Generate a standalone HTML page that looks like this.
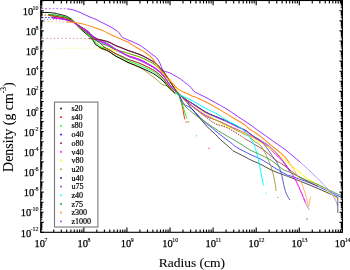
<!DOCTYPE html>
<html><head><meta charset="utf-8"><style>
html,body{margin:0;padding:0;background:#fff;}
svg{display:block;font-family:"Liberation Serif",serif;will-change:transform;}
</style></head><body>
<svg width="350" height="270" viewBox="0 0 350 270">
<rect width="350" height="270" fill="#fff"/>
<g fill="none" stroke-linejoin="round" stroke-linecap="butt">
<path d="M41.50,8.60 L67.00,8.70" stroke="#9933ff" stroke-width="1.0" stroke-dasharray="1.8 1.9" stroke-opacity="0.7"/>
<path d="M44.00,21.50 L67.00,22.00" stroke="#ff8c1a" stroke-width="1.0" stroke-dasharray="1.2 2.6" stroke-opacity="0.6"/>
<path d="M42.50,38.40 L88.70,38.50" stroke="#c04040" stroke-width="0.9" stroke-dasharray="1.4 2.4" stroke-opacity="0.6"/>
<path d="M53.00,48.20 L99.00,48.20" stroke="#f0e000" stroke-width="0.9" stroke-dasharray="1.2 2.5" stroke-opacity="0.6"/>
<path d="M42.00,17.60 L52.00,17.60" stroke="#0000ff" stroke-width="1.0" stroke-dasharray="1.4 1.7" stroke-opacity="0.9"/>
<path d="M42.00,14.40 L48.00,14.50" stroke="#00ff00" stroke-width="1.0" stroke-dasharray="1.3 1.7" stroke-opacity="0.6"/>
<path d="M41.50,15.40 L48.60,15.50" stroke="#ff0000" stroke-width="1.0" stroke-dasharray="1.3 1.8" stroke-opacity="0.6"/>
<path d="M41.50,12.40 L48.00,12.50" stroke="#000000" stroke-width="1.0" stroke-opacity="0.3"/>
<path d="M44.00,19.60 L65.00,19.80" stroke="#9932cc" stroke-width="1.0" stroke-dasharray="1.2 1.8" stroke-opacity="0.6"/>
<path d="M48.60,15.50 C49.33,15.58 51.43,15.77 53.00,16.00 C54.57,16.23 56.05,16.58 58.00,16.90 C59.95,17.22 63.03,17.58 64.70,17.90 C66.37,18.22 66.90,18.40 68.00,18.80 C69.10,19.20 70.30,19.72 71.30,20.30 C72.30,20.88 72.88,21.40 74.00,22.30 C75.12,23.20 76.50,24.45 78.00,25.70 C79.50,26.95 81.33,28.45 83.00,29.80 C84.67,31.15 86.50,32.53 88.00,33.80 C89.50,35.07 90.33,36.12 92.00,37.40 C93.67,38.68 96.67,40.62 98.00,41.50 C99.33,42.38 99.25,42.04 100.00,42.70 C100.75,43.36 101.67,44.66 102.50,45.46 C103.33,46.26 103.93,46.78 105.00,47.49 C106.07,48.20 107.57,48.93 108.90,49.70 C110.23,50.47 111.65,51.33 113.00,52.09 C114.35,52.85 115.50,53.54 117.00,54.27 C118.50,55.00 120.17,55.61 122.00,56.45 C123.83,57.29 126.00,58.49 128.00,59.30 C130.00,60.11 131.83,60.53 134.00,61.30 C136.17,62.07 138.83,63.00 141.00,63.90 C143.17,64.80 144.83,65.64 147.00,66.72 C149.17,67.80 152.17,69.28 154.00,70.40 C155.83,71.52 156.67,72.35 158.00,73.45 C159.33,74.55 160.67,75.58 162.00,77.00 C163.33,78.42 164.67,80.21 166.00,82.00 C167.33,83.79 168.83,86.20 170.00,87.75 C171.17,89.30 172.17,90.34 173.00,91.30 C173.83,92.26 174.67,93.13 175.00,93.50" stroke="#00ffff" stroke-width="1.0"/>
<path d="M52.00,17.70 C53.00,17.80 55.88,18.03 58.00,18.30 C60.12,18.57 63.03,18.98 64.70,19.30 C66.37,19.62 66.90,19.87 68.00,20.20 C69.10,20.53 70.30,20.90 71.30,21.30 C72.30,21.70 72.88,21.85 74.00,22.60 C75.12,23.35 76.50,24.70 78.00,25.80 C79.50,26.90 81.33,28.03 83.00,29.20 C84.67,30.37 86.50,31.58 88.00,32.80 C89.50,34.02 90.00,35.05 92.00,36.50 C94.00,37.95 98.00,40.35 100.00,41.50 C102.00,42.65 102.52,42.64 104.00,43.39 C105.48,44.14 107.40,45.13 108.90,46.00 C110.40,46.87 111.65,47.76 113.00,48.59 C114.35,49.42 115.50,50.22 117.00,50.97 C118.50,51.72 120.17,52.28 122.00,53.10 C123.83,53.92 126.00,55.12 128.00,55.90 C130.00,56.68 131.83,57.04 134.00,57.76 C136.17,58.48 138.83,59.27 141.00,60.20 C143.17,61.13 144.83,62.15 147.00,63.35 C149.17,64.55 152.17,66.23 154.00,67.40 C155.83,68.57 156.67,69.28 158.00,70.35 C159.33,71.42 160.67,72.32 162.00,73.80 C163.33,75.28 164.67,77.31 166.00,79.25 C167.33,81.19 168.83,83.84 170.00,85.45 C171.17,87.06 172.17,88.00 173.00,88.94 C173.83,89.88 174.67,90.74 175.00,91.10" stroke="#0000ff" stroke-width="0.85" stroke-opacity="0.8"/>
<path d="M52.00,17.60 C53.00,17.70 55.88,17.93 58.00,18.20 C60.12,18.47 63.03,18.88 64.70,19.20 C66.37,19.52 66.90,19.77 68.00,20.10 C69.10,20.43 70.30,20.80 71.30,21.20 C72.30,21.60 72.88,21.87 74.00,22.50 C75.12,23.13 76.50,24.05 78.00,25.00 C79.50,25.95 81.33,27.12 83.00,28.20 C84.67,29.28 86.50,30.28 88.00,31.50 C89.50,32.72 90.67,34.37 92.00,35.50 C93.33,36.63 94.67,37.57 96.00,38.30 C97.33,39.03 98.67,39.48 100.00,39.90 C101.33,40.32 102.52,40.42 104.00,40.80 C105.48,41.18 107.40,41.61 108.90,42.20 C110.40,42.79 111.65,43.66 113.00,44.34 C114.35,45.02 115.50,45.64 117.00,46.27 C118.50,46.90 120.17,47.41 122.00,48.13 C123.83,48.85 126.00,49.86 128.00,50.60 C130.00,51.34 131.83,51.83 134.00,52.60 C136.17,53.37 138.83,54.25 141.00,55.20 C143.17,56.15 144.83,57.12 147.00,58.30 C149.17,59.48 152.17,61.05 154.00,62.30 C155.83,63.55 156.67,64.55 158.00,65.80 C159.33,67.05 160.67,68.22 162.00,69.80 C163.33,71.38 164.67,73.34 166.00,75.30 C167.33,77.26 168.83,79.72 170.00,81.55 C171.17,83.38 172.17,85.01 173.00,86.30 C173.83,87.59 174.67,88.80 175.00,89.30" stroke="#10107a" stroke-width="0.95"/>
<path d="M48.60,15.40 C49.33,15.48 51.43,15.67 53.00,15.90 C54.57,16.13 56.05,16.48 58.00,16.80 C59.95,17.12 63.03,17.48 64.70,17.80 C66.37,18.12 66.90,18.30 68.00,18.70 C69.10,19.10 70.30,19.62 71.30,20.20 C72.30,20.78 72.88,21.15 74.00,22.20 C75.12,23.25 76.50,25.12 78.00,26.50 C79.50,27.88 81.33,29.12 83.00,30.50 C84.67,31.88 86.50,33.42 88.00,34.80 C89.50,36.18 90.00,36.57 92.00,38.80 C94.00,41.03 98.00,46.39 100.00,48.20 C102.00,50.01 102.52,49.06 104.00,49.64 C105.48,50.22 107.40,50.90 108.90,51.70 C110.40,52.50 111.65,53.56 113.00,54.44 C114.35,55.32 115.50,56.12 117.00,56.97 C118.50,57.81 120.17,58.54 122.00,59.51 C123.83,60.48 126.00,61.86 128.00,62.80 C130.00,63.74 131.83,64.27 134.00,65.17 C136.17,66.07 138.83,67.01 141.00,68.20 C143.17,69.39 144.83,70.77 147.00,72.32 C149.17,73.87 152.17,76.09 154.00,77.50 C155.83,78.91 156.67,79.58 158.00,80.75 C159.33,81.92 160.67,83.71 162.00,84.50 C163.33,85.29 164.67,85.04 166.00,85.50 C167.33,85.96 168.83,86.57 170.00,87.25 C171.17,87.93 172.17,88.97 173.00,89.60 C173.83,90.22 174.67,90.77 175.00,91.00" stroke="#999933" stroke-width="0.9"/>
<path d="M98.40,48.00 C98.67,48.00 99.07,47.95 100.00,48.00 C100.93,48.05 102.52,48.12 104.00,48.27 C105.48,48.42 107.40,48.61 108.90,48.90 C110.40,49.19 111.65,49.68 113.00,50.02 C114.35,50.37 115.50,50.64 117.00,50.97 C118.50,51.30 120.17,51.59 122.00,52.01 C123.83,52.43 126.00,52.97 128.00,53.50 C130.00,54.03 131.83,54.55 134.00,55.22 C136.17,55.89 138.83,56.63 141.00,57.50 C143.17,58.37 144.83,59.30 147.00,60.42 C149.17,61.54 152.17,63.02 154.00,64.20 C155.83,65.38 156.67,66.32 158.00,67.50 C159.33,68.68 160.67,70.05 162.00,71.30 C163.33,72.55 164.67,73.64 166.00,75.00 C167.33,76.36 168.83,77.98 170.00,79.45 C171.17,80.92 172.17,82.65 173.00,83.84 C173.83,85.03 174.67,86.14 175.00,86.60" stroke="#ffff00" stroke-width="1.0"/>
<path d="M41.50,12.40 C42.58,12.42 45.75,12.37 48.00,12.50 C50.25,12.63 53.33,12.95 55.00,13.20 C56.67,13.45 56.38,13.60 58.00,14.00 C59.62,14.40 63.03,15.10 64.70,15.60 C66.37,16.10 66.90,16.43 68.00,17.00 C69.10,17.57 70.30,18.23 71.30,19.00 C72.30,19.77 72.88,20.38 74.00,21.60 C75.12,22.82 76.50,24.70 78.00,26.30 C79.50,27.90 81.33,29.68 83.00,31.20 C84.67,32.72 86.50,34.10 88.00,35.40 C89.50,36.70 90.97,37.85 92.00,39.00 C93.03,40.15 93.60,41.33 94.20,42.30 C94.80,43.27 95.05,44.23 95.60,44.80 C96.15,45.37 96.77,45.25 97.50,45.70 C98.23,46.15 98.92,46.93 100.00,47.50 C101.08,48.07 102.52,48.47 104.00,49.12 C105.48,49.77 107.40,50.55 108.90,51.40 C110.40,52.24 111.65,53.29 113.00,54.19 C114.35,55.09 115.50,55.94 117.00,56.77 C118.50,57.60 120.17,58.25 122.00,59.17 C123.83,60.09 126.00,61.38 128.00,62.30 C130.00,63.22 131.83,63.80 134.00,64.72 C136.17,65.64 138.83,66.84 141.00,67.80 C143.17,68.76 144.83,69.45 147.00,70.48 C149.17,71.51 152.17,72.95 154.00,74.00 C155.83,75.05 156.67,75.75 158.00,76.75 C159.33,77.75 160.67,78.75 162.00,80.00 C163.33,81.25 164.67,82.71 166.00,84.25 C167.33,85.79 168.83,88.03 170.00,89.25 C171.17,90.47 172.17,90.97 173.00,91.60 C173.83,92.22 174.67,92.77 175.00,93.00" stroke="#000000" stroke-width="1.0" stroke-opacity="0.95"/>
<path d="M48.00,14.50 C48.83,14.55 51.33,14.62 53.00,14.80 C54.67,14.98 56.05,15.28 58.00,15.60 C59.95,15.92 63.03,16.33 64.70,16.70 C66.37,17.07 66.90,17.32 68.00,17.80 C69.10,18.28 70.30,18.90 71.30,19.60 C72.30,20.30 72.88,20.93 74.00,22.00 C75.12,23.07 76.50,24.63 78.00,26.00 C79.50,27.37 81.33,28.73 83.00,30.20 C84.67,31.67 86.50,33.40 88.00,34.80 C89.50,36.20 90.67,37.32 92.00,38.60 C93.33,39.88 94.85,41.37 96.00,42.50 C97.15,43.63 98.23,44.75 98.90,45.40 C99.57,46.05 99.15,46.02 100.00,46.40 C100.85,46.78 102.52,47.14 104.00,47.66 C105.48,48.18 107.40,48.74 108.90,49.50 C110.40,50.26 111.65,51.36 113.00,52.24 C114.35,53.12 115.50,53.93 117.00,54.77 C118.50,55.62 120.17,56.34 122.00,57.31 C123.83,58.28 126.00,59.66 128.00,60.60 C130.00,61.54 131.83,62.04 134.00,62.92 C136.17,63.80 138.83,64.96 141.00,65.90 C143.17,66.84 144.83,67.52 147.00,68.54 C149.17,69.56 152.17,70.92 154.00,72.00 C155.83,73.08 156.67,73.92 158.00,75.00 C159.33,76.08 160.67,77.12 162.00,78.50 C163.33,79.88 164.67,81.54 166.00,83.25 C167.33,84.96 168.83,87.29 170.00,88.75 C171.17,90.21 172.17,91.12 173.00,92.00 C173.83,92.88 174.67,93.67 175.00,94.00" stroke="#00ff00" stroke-width="0.9"/>
<path d="M48.60,15.50 C49.33,15.58 51.43,15.77 53.00,16.00 C54.57,16.23 56.05,16.58 58.00,16.90 C59.95,17.22 63.03,17.58 64.70,17.90 C66.37,18.22 66.90,18.40 68.00,18.80 C69.10,19.20 70.30,19.72 71.30,20.30 C72.30,20.88 72.88,21.42 74.00,22.30 C75.12,23.18 76.50,24.40 78.00,25.60 C79.50,26.80 81.33,28.18 83.00,29.50 C84.67,30.82 86.50,32.18 88.00,33.50 C89.50,34.82 90.33,36.07 92.00,37.40 C93.67,38.73 96.67,40.62 98.00,41.50 C99.33,42.38 99.25,42.04 100.00,42.70 C100.75,43.36 101.67,44.66 102.50,45.46 C103.33,46.26 103.93,46.78 105.00,47.49 C106.07,48.20 107.57,48.93 108.90,49.70 C110.23,50.47 111.65,51.33 113.00,52.09 C114.35,52.85 115.50,53.54 117.00,54.27 C118.50,55.00 120.17,55.61 122.00,56.45 C123.83,57.29 126.00,58.49 128.00,59.30 C130.00,60.11 131.83,60.53 134.00,61.30 C136.17,62.07 138.83,63.00 141.00,63.90 C143.17,64.80 144.83,65.64 147.00,66.72 C149.17,67.80 152.17,69.28 154.00,70.40 C155.83,71.52 156.67,72.35 158.00,73.45 C159.33,74.55 160.67,75.58 162.00,77.00 C163.33,78.42 164.67,80.21 166.00,82.00 C167.33,83.79 168.83,86.20 170.00,87.75 C171.17,89.30 172.17,90.34 173.00,91.30 C173.83,92.26 174.67,93.13 175.00,93.50" stroke="#ff0000" stroke-width="0.9"/>
<path d="M48.00,14.50 C48.83,14.55 51.33,14.62 53.00,14.80 C54.67,14.98 56.05,15.28 58.00,15.60 C59.95,15.92 63.03,16.33 64.70,16.70 C66.37,17.07 66.90,17.32 68.00,17.80 C69.10,18.28 70.30,18.90 71.30,19.60 C72.30,20.30 72.88,21.10 74.00,22.00 C75.12,22.90 76.50,23.95 78.00,25.00 C79.50,26.05 81.33,27.18 83.00,28.30 C84.67,29.42 86.50,30.17 88.00,31.70 C89.50,33.23 90.00,35.62 92.00,37.50 C94.00,39.38 98.00,41.85 100.00,43.00 C102.00,44.15 102.52,43.82 104.00,44.39 C105.48,44.96 107.40,45.75 108.90,46.40 C110.40,47.05 111.65,47.69 113.00,48.28 C114.35,48.88 115.50,49.45 117.00,49.97 C118.50,50.48 120.17,50.81 122.00,51.37 C123.83,51.92 126.00,52.67 128.00,53.30 C130.00,53.92 131.83,54.42 134.00,55.12 C136.17,55.82 138.83,56.63 141.00,57.50 C143.17,58.37 144.83,59.24 147.00,60.32 C149.17,61.40 152.17,62.84 154.00,64.00 C155.83,65.16 156.67,66.08 158.00,67.25 C159.33,68.42 160.67,69.50 162.00,71.00 C163.33,72.50 164.67,74.38 166.00,76.25 C167.33,78.12 168.83,80.51 170.00,82.25 C171.17,83.99 172.17,85.49 173.00,86.70 C173.83,87.91 174.67,89.03 175.00,89.50" stroke="#228b22" stroke-width="0.9" stroke-opacity="0.85"/>
<path d="M52.00,17.80 C53.00,17.90 55.88,18.13 58.00,18.40 C60.12,18.67 63.03,19.08 64.70,19.40 C66.37,19.72 66.90,19.97 68.00,20.30 C69.10,20.63 70.30,21.00 71.30,21.40 C72.30,21.80 72.88,22.05 74.00,22.70 C75.12,23.35 76.50,24.33 78.00,25.30 C79.50,26.27 81.33,27.38 83.00,28.50 C84.67,29.62 86.50,30.75 88.00,32.00 C89.50,33.25 90.00,34.52 92.00,36.00 C94.00,37.48 98.00,39.81 100.00,40.90 C102.00,41.99 102.52,41.89 104.00,42.56 C105.48,43.23 107.40,44.07 108.90,44.90 C110.40,45.73 111.65,46.70 113.00,47.54 C114.35,48.38 115.50,49.16 117.00,49.97 C118.50,50.78 120.17,51.48 122.00,52.42 C123.83,53.36 126.00,54.75 128.00,55.60 C130.00,56.45 131.83,56.78 134.00,57.51 C136.17,58.24 138.83,59.06 141.00,60.00 C143.17,60.94 144.83,61.95 147.00,63.15 C149.17,64.35 152.17,66.03 154.00,67.20 C155.83,68.38 156.67,69.12 158.00,70.20 C159.33,71.28 160.67,72.21 162.00,73.70 C163.33,75.19 164.67,77.21 166.00,79.15 C167.33,81.09 168.83,83.73 170.00,85.35 C171.17,86.96 172.17,87.90 173.00,88.84 C173.83,89.78 174.67,90.64 175.00,91.00" stroke="#ff00ff" stroke-width="1.0"/>
<path d="M64.70,19.80 C65.25,19.92 66.90,20.22 68.00,20.50 C69.10,20.78 70.30,21.15 71.30,21.50 C72.30,21.85 72.88,22.02 74.00,22.60 C75.12,23.18 76.50,24.10 78.00,25.00 C79.50,25.90 81.33,26.97 83.00,28.00 C84.67,29.03 86.50,29.95 88.00,31.20 C89.50,32.45 90.00,33.98 92.00,35.50 C94.00,37.02 98.00,39.22 100.00,40.30 C102.00,41.38 102.52,41.29 104.00,41.96 C105.48,42.63 107.40,43.42 108.90,44.30 C110.40,45.18 111.65,46.30 113.00,47.25 C114.35,48.20 115.50,49.05 117.00,49.97 C118.50,50.88 120.17,51.69 122.00,52.74 C123.83,53.80 126.00,55.36 128.00,56.30 C130.00,57.24 131.83,57.59 134.00,58.39 C136.17,59.19 138.83,60.15 141.00,61.10 C143.17,62.05 144.83,62.96 147.00,64.11 C149.17,65.26 152.17,66.85 154.00,68.00 C155.83,69.15 156.67,69.92 158.00,71.00 C159.33,72.08 160.67,73.08 162.00,74.50 C163.33,75.92 164.67,77.71 166.00,79.50 C167.33,81.29 168.83,83.70 170.00,85.25 C171.17,86.80 172.17,87.84 173.00,88.80 C173.83,89.76 174.67,90.63 175.00,91.00" stroke="#9932cc" stroke-width="0.9"/>
<path d="M88.70,38.50 C89.07,38.55 89.85,38.70 90.90,38.80 C91.95,38.90 93.48,38.97 95.00,39.10 C96.52,39.23 98.50,39.37 100.00,39.60 C101.50,39.83 102.52,40.12 104.00,40.50 C105.48,40.88 107.40,41.31 108.90,41.90 C110.40,42.49 111.65,43.36 113.00,44.04 C114.35,44.72 115.50,45.34 117.00,45.97 C118.50,46.60 120.17,47.11 122.00,47.83 C123.83,48.55 126.00,49.55 128.00,50.30 C130.00,51.04 131.83,51.53 134.00,52.30 C136.17,53.07 138.83,53.95 141.00,54.90 C143.17,55.85 144.83,56.82 147.00,58.00 C149.17,59.18 152.17,60.75 154.00,62.00 C155.83,63.25 156.67,64.25 158.00,65.50 C159.33,66.75 160.67,67.92 162.00,69.50 C163.33,71.08 164.67,73.04 166.00,75.00 C167.33,76.96 168.83,79.42 170.00,81.25 C171.17,83.08 172.17,84.71 173.00,86.00 C173.83,87.29 174.67,88.50 175.00,89.00" stroke="#8b1a1a" stroke-width="0.9"/>
<path d="M66.00,22.00 C66.67,22.02 68.43,22.00 70.00,22.10 C71.57,22.20 73.22,22.27 75.40,22.60 C77.58,22.93 79.97,23.30 83.10,24.10 C86.23,24.90 91.05,26.38 94.20,27.40 C97.35,28.42 99.52,29.13 102.00,30.20 C104.48,31.27 106.93,32.75 109.10,33.80 C111.27,34.85 112.70,35.47 115.00,36.50 C117.30,37.53 120.73,39.08 122.90,40.00 C125.07,40.92 126.48,41.18 128.00,42.00 C129.52,42.82 130.00,43.65 132.00,44.90 C134.00,46.15 137.68,48.15 140.00,49.50 C142.32,50.85 143.93,51.62 145.90,53.00 C147.87,54.38 150.22,56.22 151.80,57.80 C153.38,59.38 154.40,61.12 155.40,62.50 C156.40,63.88 157.02,64.92 157.80,66.10 C158.58,67.28 159.23,68.37 160.10,69.60 C160.97,70.83 161.67,71.93 163.00,73.50 C164.33,75.07 166.27,77.08 168.10,79.00 C169.93,80.92 173.02,84.00 174.00,85.00" stroke="#ff8c1a" stroke-width="1.05"/>
<path d="M67.00,8.80 C67.67,8.90 69.67,9.12 71.00,9.40 C72.33,9.68 73.50,10.00 75.00,10.50 C76.50,11.00 78.50,11.77 80.00,12.40 C81.50,13.03 82.33,13.53 84.00,14.30 C85.67,15.07 88.00,16.15 90.00,17.00 C92.00,17.85 94.33,18.63 96.00,19.40 C97.67,20.17 98.50,20.83 100.00,21.60 C101.50,22.37 103.27,23.13 105.00,24.00 C106.73,24.87 108.90,25.97 110.40,26.80 C111.90,27.63 112.80,28.22 114.00,29.00 C115.20,29.78 116.73,30.83 117.60,31.50 C118.47,32.17 118.77,32.53 119.20,33.00 C119.63,33.47 119.90,33.83 120.20,34.30 C120.50,34.77 120.75,35.38 121.00,35.80 C121.25,36.22 121.40,36.50 121.70,36.80 C122.00,37.10 122.08,37.23 122.80,37.60 C123.52,37.97 124.97,38.55 126.00,39.00 C127.03,39.45 127.83,39.80 129.00,40.30 C130.17,40.80 131.83,41.48 133.00,42.00 C134.17,42.52 134.83,42.85 136.00,43.40 C137.17,43.95 138.35,44.28 140.00,45.30 C141.65,46.32 143.93,48.02 145.90,49.50 C147.87,50.98 150.02,52.82 151.80,54.20 C153.58,55.58 155.40,56.62 156.60,57.80 C157.80,58.98 158.32,60.12 159.00,61.30 C159.68,62.48 160.22,63.75 160.70,64.90 C161.18,66.05 161.43,67.25 161.90,68.20 C162.37,69.15 162.82,70.00 163.50,70.60 C164.18,71.20 164.98,71.43 166.00,71.80 C167.02,72.17 168.10,72.13 169.60,72.80 C171.10,73.47 174.10,75.30 175.00,75.80" stroke="#9933ff" stroke-width="1.0"/>
<path d="M175.00,93.00 C175.50,93.17 177.00,93.50 178.00,94.00 C179.00,94.50 180.00,95.17 181.00,96.00 C182.00,96.83 183.00,97.92 184.00,99.00 C185.00,100.08 186.00,101.25 187.00,102.50 C188.00,103.75 188.67,104.83 190.00,106.50 C191.33,108.17 193.33,110.50 195.00,112.50 C196.67,114.50 198.33,116.53 200.00,118.50 C201.67,120.47 203.28,122.42 205.00,124.30 C206.72,126.18 208.67,128.25 210.30,129.80 C211.93,131.35 213.12,131.98 214.80,133.60 C216.48,135.22 217.75,137.02 220.40,139.50 C223.05,141.98 228.47,146.55 230.70,148.50 C232.93,150.45 232.25,150.23 233.80,151.20 C235.35,152.17 238.13,153.35 240.00,154.30 C241.87,155.25 243.02,155.87 245.00,156.90 C246.98,157.93 249.40,159.32 251.90,160.50 C254.40,161.68 256.65,162.37 260.00,164.00 C263.35,165.63 268.00,168.47 272.00,170.30 C276.00,172.13 281.00,173.85 284.00,175.00 C287.00,176.15 285.33,175.37 290.00,177.20 C294.67,179.03 304.07,182.67 312.00,186.00 C319.93,189.33 333.33,195.33 337.60,197.20" stroke="#000000" stroke-width="0.9" stroke-opacity="0.8"/>
<path d="M175.00,93.50 C175.50,93.58 177.25,93.52 178.00,94.00 C178.75,94.48 178.77,94.27 179.50,96.40 C180.23,98.53 181.53,102.97 182.40,106.80 C183.27,110.63 184.32,117.30 184.70,119.40" stroke="#ff0000" stroke-width="0.9"/>
<path d="M175.00,94.00 C175.50,93.92 177.13,92.85 178.00,93.50 C178.87,94.15 179.28,95.48 180.20,97.90 C181.12,100.32 182.38,104.55 183.50,108.00 C184.62,111.45 186.33,116.83 186.90,118.60" stroke="#00ff00" stroke-width="0.9"/>
<path d="M175.00,91.10 C175.50,91.42 176.52,90.88 178.00,93.00 C179.48,95.12 181.90,101.38 183.90,103.80 C185.90,106.22 188.02,105.97 190.00,107.50 C191.98,109.03 193.30,110.50 195.80,113.00 C198.30,115.50 202.58,120.25 205.00,122.50 C207.42,124.75 207.80,124.50 210.30,126.50 C212.80,128.50 216.60,131.82 220.00,134.50 C223.40,137.18 227.90,140.45 230.70,142.60 C233.50,144.75 233.58,145.45 236.80,147.40 C240.02,149.35 246.13,152.40 250.00,154.30 C253.87,156.20 257.15,157.37 260.00,158.80 C262.85,160.23 264.43,161.25 267.10,162.90 C269.77,164.55 272.73,166.73 276.00,168.70 C279.27,170.67 284.37,173.52 286.70,174.70 C289.03,175.88 285.75,174.27 290.00,175.80 C294.25,177.33 303.70,180.33 312.20,183.90 C320.70,187.47 336.20,194.98 341.00,197.20" stroke="#0000ff" stroke-width="0.85" stroke-opacity="0.8"/>
<path d="M175.00,89.00 C175.50,89.67 176.33,91.17 178.00,93.00 C179.67,94.83 182.28,97.50 185.00,100.00 C187.72,102.50 191.03,105.33 194.30,108.00 C197.57,110.67 201.15,113.42 204.60,116.00 C208.05,118.58 211.53,121.67 215.00,123.50 C218.47,125.33 222.40,125.75 225.40,127.00 C228.40,128.25 230.42,129.52 233.00,131.00 C235.58,132.48 238.90,134.57 240.90,135.90 C242.90,137.23 244.32,138.48 245.00,139.00" stroke="#8b1a1a" stroke-width="0.9" stroke-dasharray="1.6 1.1"/>
<path d="M245.00,139.00 C246.02,139.53 249.27,141.15 251.10,142.20 C252.93,143.25 254.15,144.18 256.00,145.30 C257.85,146.42 260.37,147.65 262.20,148.90 C264.03,150.15 265.70,151.73 267.00,152.80 C268.30,153.87 268.50,154.02 270.00,155.30 C271.50,156.58 273.67,158.83 276.00,160.50 C278.33,162.17 280.67,162.93 284.00,165.30 C287.33,167.67 292.50,172.25 296.00,174.70 C299.50,177.15 301.33,178.03 305.00,180.00 C308.67,181.97 315.83,185.42 318.00,186.50" stroke="#8b1a1a" stroke-width="0.9" stroke-opacity="0.8"/>
<path d="M175.00,91.00 C175.50,91.33 176.33,91.58 178.00,93.00 C179.67,94.42 182.17,97.00 185.00,99.50 C187.83,102.00 191.67,105.40 195.00,108.00 C198.33,110.60 201.33,113.02 205.00,115.10 C208.67,117.18 213.05,118.72 217.00,120.50 C220.95,122.28 224.03,123.72 228.70,125.80 C233.37,127.88 241.45,131.38 245.00,133.00 C248.55,134.62 247.50,134.08 250.00,135.50 C252.50,136.92 257.15,139.77 260.00,141.50 C262.85,143.23 264.43,143.70 267.10,145.90 C269.77,148.10 273.40,152.13 276.00,154.70 C278.60,157.27 280.48,158.63 282.70,161.30 C284.92,163.97 287.58,168.33 289.30,170.70 C291.02,173.07 291.88,173.78 293.00,175.50 C294.12,177.22 295.02,179.10 296.00,181.00 C296.98,182.90 298.07,185.07 298.90,186.90 C299.73,188.73 300.27,190.28 301.00,192.00 C301.73,193.72 302.53,195.47 303.30,197.20 C304.07,198.93 305.22,201.53 305.60,202.40" stroke="#ff00ff" stroke-width="1.0"/>
<path d="M175.00,86.60 C175.50,87.50 177.00,90.60 178.00,92.00 C179.00,93.40 179.00,93.42 181.00,95.00 C183.00,96.58 186.83,99.00 190.00,101.50 C193.17,104.00 197.07,107.83 200.00,110.00 C202.93,112.17 204.20,112.33 207.60,114.50 C211.00,116.67 216.88,120.92 220.40,123.00 C223.92,125.08 224.60,125.25 228.70,127.00 C232.80,128.75 239.78,131.00 245.00,133.50 C250.22,136.00 255.83,139.50 260.00,142.00 C264.17,144.50 266.22,145.78 270.00,148.50 C273.78,151.22 279.48,155.63 282.70,158.30 C285.92,160.97 287.25,162.80 289.30,164.50 C291.35,166.20 293.22,167.17 295.00,168.50 C296.78,169.83 298.33,171.08 300.00,172.50 C301.67,173.92 303.00,175.50 305.00,177.00 C307.00,178.50 308.92,179.75 312.00,181.50 C315.08,183.25 320.50,185.58 323.50,187.50 C326.50,189.42 327.68,191.03 330.00,193.00 C332.32,194.97 336.17,198.25 337.40,199.30" stroke="#ffff00" stroke-width="1.0"/>
<path d="M175.00,91.00 C175.50,91.33 176.33,91.42 178.00,93.00 C179.67,94.58 182.17,97.92 185.00,100.50 C187.83,103.08 191.67,105.92 195.00,108.50 C198.33,111.08 201.75,114.17 205.00,116.00 C208.25,117.83 211.17,118.17 214.50,119.50 C217.83,120.83 221.58,122.33 225.00,124.00 C228.42,125.67 231.67,127.75 235.00,129.50 C238.33,131.25 242.50,133.33 245.00,134.50 C247.50,135.67 248.62,135.52 250.00,136.50 C251.38,137.48 251.97,139.23 253.30,140.40 C254.63,141.57 256.72,142.57 258.00,143.50 C259.28,144.43 259.83,144.45 261.00,146.00 C262.17,147.55 263.83,150.63 265.00,152.80 C266.17,154.97 266.83,156.17 268.00,159.00 C269.17,161.83 270.78,165.57 272.00,169.80 C273.22,174.03 274.63,180.87 275.30,184.40 C275.97,187.93 275.88,189.90 276.00,191.00" stroke="#999933" stroke-width="0.9"/>
<path d="M175.00,89.30 C175.50,89.92 176.33,91.38 178.00,93.00 C179.67,94.62 182.17,97.00 185.00,99.00 C187.83,101.00 191.67,102.90 195.00,105.00 C198.33,107.10 201.67,109.73 205.00,111.60 C208.33,113.47 211.60,114.73 215.00,116.20 C218.40,117.67 221.95,118.85 225.40,120.40 C228.85,121.95 232.27,123.78 235.70,125.50 C239.13,127.22 243.62,129.35 246.00,130.70 C248.38,132.05 248.50,132.50 250.00,133.60 C251.50,134.70 253.50,136.32 255.00,137.30 C256.50,138.28 257.83,138.72 259.00,139.50 C260.17,140.28 261.50,141.58 262.00,142.00" stroke="#10107a" stroke-width="0.95"/>
<path d="M262.00,142.00 C262.50,142.58 263.95,144.17 265.00,145.50 C266.05,146.83 267.13,148.33 268.30,150.00 C269.47,151.67 270.70,153.65 272.00,155.50 C273.30,157.35 275.02,159.35 276.10,161.10 C277.18,162.85 277.75,164.33 278.50,166.00 C279.25,167.67 279.88,168.77 280.60,171.10 C281.32,173.43 282.15,177.18 282.80,180.00 C283.45,182.82 283.85,185.58 284.50,188.00 C285.15,190.42 285.80,192.50 286.70,194.50 C287.60,196.50 289.37,199.08 289.90,200.00" stroke="#5050b0" stroke-width="0.9"/>
<path d="M175.00,91.00 C175.50,91.33 176.33,91.70 178.00,93.00 C179.67,94.30 182.17,96.72 185.00,98.80 C187.83,100.88 191.67,103.27 195.00,105.50 C198.33,107.73 201.67,110.32 205.00,112.20 C208.33,114.08 211.60,115.30 215.00,116.80 C218.40,118.30 221.95,119.63 225.40,121.20 C228.85,122.77 232.27,124.53 235.70,126.20 C239.13,127.87 242.78,129.32 246.00,131.20 C249.22,133.08 251.50,135.28 255.00,137.50 C258.50,139.72 263.50,142.00 267.00,144.50 C270.50,147.00 273.12,149.50 276.00,152.50 C278.88,155.50 281.97,159.42 284.30,162.50 C286.63,165.58 289.05,169.58 290.00,171.00" stroke="#9932cc" stroke-width="0.9"/>
<path d="M175.00,93.50 C175.50,93.58 177.25,93.75 178.00,94.00 C178.75,94.25 177.50,94.08 179.50,95.00 C181.50,95.92 185.75,97.33 190.00,99.50 C194.25,101.67 200.50,105.62 205.00,108.00 C209.50,110.38 214.08,112.22 217.00,113.80 C219.92,115.38 220.55,116.22 222.50,117.50 C224.45,118.78 226.50,120.28 228.70,121.50 C230.90,122.72 233.65,123.68 235.70,124.80 C237.75,125.92 239.28,126.88 241.00,128.20 C242.72,129.52 244.50,131.13 246.00,132.70 C247.50,134.27 248.83,135.97 250.00,137.60 C251.17,139.23 252.10,140.68 253.00,142.50 C253.90,144.32 254.65,146.25 255.40,148.50 C256.15,150.75 256.83,153.42 257.50,156.00 C258.17,158.58 258.82,161.17 259.40,164.00 C259.98,166.83 260.32,169.43 261.00,173.00 C261.68,176.57 263.08,183.33 263.50,185.40" stroke="#00ffff" stroke-width="1.0"/>
<path d="M175.00,89.50 C175.50,90.08 176.77,90.75 178.00,93.00 C179.23,95.25 179.93,99.67 182.40,103.00 C184.87,106.33 189.03,109.90 192.80,113.00 C196.57,116.10 201.30,119.00 205.00,121.60 C208.70,124.20 212.17,126.70 215.00,128.60 C217.83,130.50 219.42,131.43 222.00,133.00 C224.58,134.57 227.50,136.25 230.50,138.00 C233.50,139.75 236.75,141.50 240.00,143.50 C243.25,145.50 247.00,148.33 250.00,150.00 C253.00,151.67 256.00,152.58 258.00,153.50 C260.00,154.42 260.48,154.75 262.00,155.50 C263.52,156.25 265.77,157.33 267.10,158.00 C268.43,158.67 268.28,158.33 270.00,159.50 C271.72,160.67 275.23,163.33 277.40,165.00 C279.57,166.67 281.02,168.33 283.00,169.50 C284.98,170.67 286.92,170.92 289.30,172.00 C291.68,173.08 294.68,174.73 297.30,176.00 C299.92,177.27 302.52,178.55 305.00,179.60 C307.48,180.65 309.70,181.32 312.20,182.30 C314.70,183.28 317.03,184.13 320.00,185.50 C322.97,186.87 326.50,188.82 330.00,190.50 C333.50,192.18 339.17,194.75 341.00,195.60" stroke="#228b22" stroke-width="0.9" stroke-opacity="0.85"/>
<path d="M174.00,85.00 C174.75,85.72 176.85,88.08 178.50,89.30 C180.15,90.52 182.42,91.58 183.90,92.30 C185.38,93.02 185.95,92.95 187.40,93.60 C188.85,94.25 190.83,95.43 192.60,96.20 C194.37,96.97 195.05,96.87 198.00,98.23 C200.95,99.59 207.13,102.69 210.30,104.34 C213.47,106.00 213.93,106.36 217.00,108.16 C220.07,109.96 225.70,113.34 228.70,115.14 C231.70,116.94 233.12,117.82 235.00,118.93 C236.88,120.04 238.33,120.75 240.00,121.80 C241.67,122.84 243.33,123.92 245.00,125.20 C246.67,126.48 248.17,128.17 250.00,129.50 C251.83,130.83 253.83,131.73 256.00,133.20 C258.17,134.67 260.67,136.43 263.00,138.30 C265.33,140.17 267.83,142.58 270.00,144.40 C272.17,146.22 274.17,147.70 276.00,149.20 C277.83,150.70 279.50,152.06 281.00,153.40 C282.50,154.74 283.60,155.62 285.00,157.21 C286.40,158.80 288.67,161.98 289.40,162.93" stroke="#ff8c1a" stroke-width="1.05"/>
<path d="M289.40,162.93 C290.00,163.83 291.67,166.21 293.00,168.30 C294.33,170.40 296.32,173.63 297.40,175.50 C298.48,177.37 298.75,178.08 299.50,179.50 C300.25,180.92 301.15,182.25 301.90,184.00 C302.65,185.75 303.27,187.80 304.00,190.00 C304.73,192.20 305.72,195.20 306.30,197.20 C306.88,199.20 307.13,200.38 307.50,202.00 C307.87,203.62 308.15,206.90 308.50,206.90 C308.85,206.90 309.23,203.73 309.60,202.00 C309.97,200.27 310.52,197.42 310.70,196.50" stroke="#ffa64d" stroke-width="0.85"/>
<path d="M175.00,75.80 C175.83,76.28 178.92,78.05 180.00,78.70 C181.08,79.35 180.58,78.98 181.50,79.70 C182.42,80.42 184.17,81.95 185.50,83.00 C186.83,84.05 188.42,85.03 189.50,86.00 C190.58,86.97 191.28,87.97 192.00,88.80 C192.72,89.63 193.17,90.37 193.80,91.00 C194.43,91.63 195.10,92.17 195.80,92.60 C196.50,93.03 196.47,92.86 198.00,93.60 C199.53,94.34 202.50,95.74 205.00,97.02 C207.50,98.30 210.42,99.86 213.00,101.27 C215.58,102.68 218.00,104.05 220.50,105.48 C223.00,106.92 224.75,107.79 228.00,109.88 C231.25,111.97 237.17,116.11 240.00,118.00 C242.83,119.89 243.33,120.12 245.00,121.20 C246.67,122.28 248.05,123.12 250.00,124.50 C251.95,125.88 254.53,127.92 256.70,129.50 C258.87,131.08 260.78,132.43 263.00,134.00 C265.22,135.57 267.83,137.37 270.00,138.90 C272.17,140.43 273.62,141.53 276.00,143.20 C278.38,144.87 282.08,147.28 284.30,148.90 C286.52,150.53 287.52,151.48 289.30,152.95 C291.08,154.42 293.22,156.20 295.00,157.71 C296.78,159.22 299.17,161.31 300.00,162.03" stroke="#9933ff" stroke-width="1.0"/>
<path d="M300.00,162.03 C300.83,162.77 303.33,164.98 305.00,166.49 C306.67,168.00 308.15,169.36 310.00,171.10 C311.85,172.84 313.85,174.73 316.10,176.95 C318.35,179.17 321.68,182.55 323.50,184.40 C325.32,186.25 325.77,186.76 327.00,188.07 C328.23,189.38 329.82,190.88 330.90,192.28 C331.98,193.69 332.72,195.18 333.50,196.50 C334.28,197.82 334.95,198.67 335.60,200.20 C336.25,201.73 337.10,204.78 337.40,205.70" stroke="#b58cff" stroke-width="0.95"/>
<path d="M337.80,197.00 L337.80,213.00" stroke="#000000" stroke-width="1.0" stroke-opacity="0.6"/>
<path d="M303.50,199.00 C303.75,199.50 304.42,200.83 305.00,202.00 C305.58,203.17 306.28,204.70 307.00,206.00 C307.72,207.30 308.92,209.17 309.30,209.80" stroke="#9932cc" stroke-width="0.8" stroke-opacity="0.7"/>
<rect x="185.5" y="121.5" width="1" height="1" fill="#ff0000" stroke="none"/>
<rect x="187.5" y="121.5" width="1" height="1" fill="#ff0000" stroke="none"/>
<rect x="188.0" y="121.5" width="1" height="1" fill="#00ff00" stroke="none"/>
<rect x="196.0" y="135.3" width="1" height="1" fill="#00ff00" stroke="none"/>
<rect x="208.5" y="147.8" width="1" height="1" fill="#ff0000" stroke="none"/>
<rect x="265.5" y="192.5" width="1" height="1" fill="#00ffff" stroke="none"/>
<rect x="277.2" y="197.0" width="1" height="1" fill="#999933" stroke="none"/>
<rect x="306.5" y="218.5" width="1" height="1" fill="#10107a" stroke="none"/>
</g>
<rect x="54.5" y="102.1" width="43.4" height="124.9" fill="#fff" stroke="#777" stroke-width="1.1"/>
<rect x="60.2" y="107.70" width="1.6" height="1.6" fill="#000000"/>
<text x="71.4" y="111.10" font-size="8.1" stroke="#000" stroke-width="0.2">s20</text>
<rect x="60.2" y="116.38" width="1.6" height="1.6" fill="#ff0000"/>
<text x="71.4" y="119.78" font-size="8.1" stroke="#000" stroke-width="0.2">s40</text>
<rect x="60.2" y="125.06" width="1.6" height="1.6" fill="#00ff00"/>
<text x="71.4" y="128.46" font-size="8.1" stroke="#000" stroke-width="0.2">s80</text>
<rect x="60.2" y="133.74" width="1.6" height="1.6" fill="#0000ff"/>
<text x="71.4" y="137.14" font-size="8.1" stroke="#000" stroke-width="0.2">o40</text>
<rect x="60.2" y="142.42" width="1.6" height="1.6" fill="#8b1a1a"/>
<text x="71.4" y="145.82" font-size="8.1" stroke="#000" stroke-width="0.2">o80</text>
<rect x="60.2" y="151.10" width="1.6" height="1.6" fill="#ff00ff"/>
<text x="71.4" y="154.50" font-size="8.1" stroke="#000" stroke-width="0.2">v40</text>
<rect x="60.2" y="159.78" width="1.6" height="1.6" fill="#ffff00"/>
<text x="71.4" y="163.18" font-size="8.1" stroke="#000" stroke-width="0.2">v80</text>
<rect x="60.2" y="168.46" width="1.6" height="1.6" fill="#999933"/>
<text x="71.4" y="171.86" font-size="8.1" stroke="#000" stroke-width="0.2">u20</text>
<rect x="60.2" y="177.14" width="1.6" height="1.6" fill="#10107a"/>
<text x="71.4" y="180.54" font-size="8.1" stroke="#000" stroke-width="0.2">u40</text>
<rect x="60.2" y="185.82" width="1.6" height="1.6" fill="#9932cc"/>
<text x="71.4" y="189.22" font-size="8.1" stroke="#000" stroke-width="0.2">u75</text>
<rect x="60.2" y="194.50" width="1.6" height="1.6" fill="#00ffff"/>
<text x="71.4" y="197.90" font-size="8.1" stroke="#000" stroke-width="0.2">z40</text>
<rect x="60.2" y="203.18" width="1.6" height="1.6" fill="#228b22"/>
<text x="71.4" y="206.58" font-size="8.1" stroke="#000" stroke-width="0.2">z75</text>
<rect x="60.2" y="211.86" width="1.6" height="1.6" fill="#ff8c1a"/>
<text x="71.4" y="215.26" font-size="8.1" stroke="#000" stroke-width="0.2">z300</text>
<rect x="60.2" y="220.54" width="1.6" height="1.6" fill="#9933ff"/>
<text x="71.4" y="223.94" font-size="8.1" stroke="#000" stroke-width="0.2">z1000</text>
<path d="M40.75,232.3 V227.5 M40.75,0.5 V5.3 M53.72,232.3 V229.4 M53.72,0.5 V3.4 M61.31,232.3 V229.4 M61.31,0.5 V3.4 M66.69,232.3 V229.4 M66.69,0.5 V3.4 M70.87,232.3 V229.4 M70.87,0.5 V3.4 M74.28,232.3 V229.4 M74.28,0.5 V3.4 M77.17,232.3 V229.4 M77.17,0.5 V3.4 M79.66,232.3 V229.4 M79.66,0.5 V3.4 M81.87,232.3 V229.4 M81.87,0.5 V3.4 M83.84,232.3 V227.5 M83.84,0.5 V5.3 M96.81,232.3 V229.4 M96.81,0.5 V3.4 M104.40,232.3 V229.4 M104.40,0.5 V3.4 M109.78,232.3 V229.4 M109.78,0.5 V3.4 M113.96,232.3 V229.4 M113.96,0.5 V3.4 M117.37,232.3 V229.4 M117.37,0.5 V3.4 M120.26,232.3 V229.4 M120.26,0.5 V3.4 M122.75,232.3 V229.4 M122.75,0.5 V3.4 M124.96,232.3 V229.4 M124.96,0.5 V3.4 M126.93,232.3 V227.5 M126.93,0.5 V5.3 M139.90,232.3 V229.4 M139.90,0.5 V3.4 M147.49,232.3 V229.4 M147.49,0.5 V3.4 M152.87,232.3 V229.4 M152.87,0.5 V3.4 M157.05,232.3 V229.4 M157.05,0.5 V3.4 M160.46,232.3 V229.4 M160.46,0.5 V3.4 M163.35,232.3 V229.4 M163.35,0.5 V3.4 M165.84,232.3 V229.4 M165.84,0.5 V3.4 M168.05,232.3 V229.4 M168.05,0.5 V3.4 M170.02,232.3 V227.5 M170.02,0.5 V5.3 M182.99,232.3 V229.4 M182.99,0.5 V3.4 M190.58,232.3 V229.4 M190.58,0.5 V3.4 M195.96,232.3 V229.4 M195.96,0.5 V3.4 M200.14,232.3 V229.4 M200.14,0.5 V3.4 M203.55,232.3 V229.4 M203.55,0.5 V3.4 M206.44,232.3 V229.4 M206.44,0.5 V3.4 M208.93,232.3 V229.4 M208.93,0.5 V3.4 M211.14,232.3 V229.4 M211.14,0.5 V3.4 M213.11,232.3 V227.5 M213.11,0.5 V5.3 M226.08,232.3 V229.4 M226.08,0.5 V3.4 M233.67,232.3 V229.4 M233.67,0.5 V3.4 M239.05,232.3 V229.4 M239.05,0.5 V3.4 M243.23,232.3 V229.4 M243.23,0.5 V3.4 M246.64,232.3 V229.4 M246.64,0.5 V3.4 M249.53,232.3 V229.4 M249.53,0.5 V3.4 M252.02,232.3 V229.4 M252.02,0.5 V3.4 M254.23,232.3 V229.4 M254.23,0.5 V3.4 M256.20,232.3 V227.5 M256.20,0.5 V5.3 M269.17,232.3 V229.4 M269.17,0.5 V3.4 M276.76,232.3 V229.4 M276.76,0.5 V3.4 M282.14,232.3 V229.4 M282.14,0.5 V3.4 M286.32,232.3 V229.4 M286.32,0.5 V3.4 M289.73,232.3 V229.4 M289.73,0.5 V3.4 M292.62,232.3 V229.4 M292.62,0.5 V3.4 M295.11,232.3 V229.4 M295.11,0.5 V3.4 M297.32,232.3 V229.4 M297.32,0.5 V3.4 M299.29,232.3 V227.5 M299.29,0.5 V5.3 M312.26,232.3 V229.4 M312.26,0.5 V3.4 M319.85,232.3 V229.4 M319.85,0.5 V3.4 M325.23,232.3 V229.4 M325.23,0.5 V3.4 M329.41,232.3 V229.4 M329.41,0.5 V3.4 M332.82,232.3 V229.4 M332.82,0.5 V3.4 M335.71,232.3 V229.4 M335.71,0.5 V3.4 M338.20,232.3 V229.4 M338.20,0.5 V3.4 M340.41,232.3 V229.4 M340.41,0.5 V3.4 M342.38,232.3 V227.5 M342.38,0.5 V5.3 M40.75,232.40 H43.65 M342.4,232.40 H339.5 M40.75,229.37 H42.35 M342.4,229.37 H340.79999999999995 M40.75,227.59 H42.35 M342.4,227.59 H340.79999999999995 M40.75,226.33 H42.35 M342.4,226.33 H340.79999999999995 M40.75,225.36 H42.35 M342.4,225.36 H340.79999999999995 M40.75,224.56 H42.35 M342.4,224.56 H340.79999999999995 M40.75,223.89 H42.35 M342.4,223.89 H340.79999999999995 M40.75,223.30 H42.35 M342.4,223.30 H340.79999999999995 M40.75,222.79 H42.35 M342.4,222.79 H340.79999999999995 M40.75,222.33 H43.65 M342.4,222.33 H339.5 M40.75,219.29 H42.35 M342.4,219.29 H340.79999999999995 M40.75,217.52 H42.35 M342.4,217.52 H340.79999999999995 M40.75,216.26 H42.35 M342.4,216.26 H340.79999999999995 M40.75,215.28 H42.35 M342.4,215.28 H340.79999999999995 M40.75,214.49 H42.35 M342.4,214.49 H340.79999999999995 M40.75,213.81 H42.35 M342.4,213.81 H340.79999999999995 M40.75,213.23 H42.35 M342.4,213.23 H340.79999999999995 M40.75,212.71 H42.35 M342.4,212.71 H340.79999999999995 M40.75,212.25 H43.65 M342.4,212.25 H339.5 M40.75,209.22 H42.35 M342.4,209.22 H340.79999999999995 M40.75,207.44 H42.35 M342.4,207.44 H340.79999999999995 M40.75,206.18 H42.35 M342.4,206.18 H340.79999999999995 M40.75,205.21 H42.35 M342.4,205.21 H340.79999999999995 M40.75,204.41 H42.35 M342.4,204.41 H340.79999999999995 M40.75,203.74 H42.35 M342.4,203.74 H340.79999999999995 M40.75,203.15 H42.35 M342.4,203.15 H340.79999999999995 M40.75,202.64 H42.35 M342.4,202.64 H340.79999999999995 M40.75,202.18 H43.65 M342.4,202.18 H339.5 M40.75,199.14 H42.35 M342.4,199.14 H340.79999999999995 M40.75,197.37 H42.35 M342.4,197.37 H340.79999999999995 M40.75,196.11 H42.35 M342.4,196.11 H340.79999999999995 M40.75,195.13 H42.35 M342.4,195.13 H340.79999999999995 M40.75,194.34 H42.35 M342.4,194.34 H340.79999999999995 M40.75,193.66 H42.35 M342.4,193.66 H340.79999999999995 M40.75,193.08 H42.35 M342.4,193.08 H340.79999999999995 M40.75,192.56 H42.35 M342.4,192.56 H340.79999999999995 M40.75,192.10 H43.65 M342.4,192.10 H339.5 M40.75,189.07 H42.35 M342.4,189.07 H340.79999999999995 M40.75,187.29 H42.35 M342.4,187.29 H340.79999999999995 M40.75,186.03 H42.35 M342.4,186.03 H340.79999999999995 M40.75,185.06 H42.35 M342.4,185.06 H340.79999999999995 M40.75,184.26 H42.35 M342.4,184.26 H340.79999999999995 M40.75,183.59 H42.35 M342.4,183.59 H340.79999999999995 M40.75,183.00 H42.35 M342.4,183.00 H340.79999999999995 M40.75,182.49 H42.35 M342.4,182.49 H340.79999999999995 M40.75,182.03 H43.65 M342.4,182.03 H339.5 M40.75,178.99 H42.35 M342.4,178.99 H340.79999999999995 M40.75,177.22 H42.35 M342.4,177.22 H340.79999999999995 M40.75,175.96 H42.35 M342.4,175.96 H340.79999999999995 M40.75,174.98 H42.35 M342.4,174.98 H340.79999999999995 M40.75,174.19 H42.35 M342.4,174.19 H340.79999999999995 M40.75,173.51 H42.35 M342.4,173.51 H340.79999999999995 M40.75,172.93 H42.35 M342.4,172.93 H340.79999999999995 M40.75,172.41 H42.35 M342.4,172.41 H340.79999999999995 M40.75,171.95 H43.65 M342.4,171.95 H339.5 M40.75,168.92 H42.35 M342.4,168.92 H340.79999999999995 M40.75,167.14 H42.35 M342.4,167.14 H340.79999999999995 M40.75,165.88 H42.35 M342.4,165.88 H340.79999999999995 M40.75,164.91 H42.35 M342.4,164.91 H340.79999999999995 M40.75,164.11 H42.35 M342.4,164.11 H340.79999999999995 M40.75,163.44 H42.35 M342.4,163.44 H340.79999999999995 M40.75,162.85 H42.35 M342.4,162.85 H340.79999999999995 M40.75,162.34 H42.35 M342.4,162.34 H340.79999999999995 M40.75,161.88 H43.65 M342.4,161.88 H339.5 M40.75,158.84 H42.35 M342.4,158.84 H340.79999999999995 M40.75,157.07 H42.35 M342.4,157.07 H340.79999999999995 M40.75,155.81 H42.35 M342.4,155.81 H340.79999999999995 M40.75,154.83 H42.35 M342.4,154.83 H340.79999999999995 M40.75,154.04 H42.35 M342.4,154.04 H340.79999999999995 M40.75,153.36 H42.35 M342.4,153.36 H340.79999999999995 M40.75,152.78 H42.35 M342.4,152.78 H340.79999999999995 M40.75,152.26 H42.35 M342.4,152.26 H340.79999999999995 M40.75,151.80 H43.65 M342.4,151.80 H339.5 M40.75,148.77 H42.35 M342.4,148.77 H340.79999999999995 M40.75,146.99 H42.35 M342.4,146.99 H340.79999999999995 M40.75,145.73 H42.35 M342.4,145.73 H340.79999999999995 M40.75,144.76 H42.35 M342.4,144.76 H340.79999999999995 M40.75,143.96 H42.35 M342.4,143.96 H340.79999999999995 M40.75,143.29 H42.35 M342.4,143.29 H340.79999999999995 M40.75,142.70 H42.35 M342.4,142.70 H340.79999999999995 M40.75,142.19 H42.35 M342.4,142.19 H340.79999999999995 M40.75,141.73 H43.65 M342.4,141.73 H339.5 M40.75,138.69 H42.35 M342.4,138.69 H340.79999999999995 M40.75,136.92 H42.35 M342.4,136.92 H340.79999999999995 M40.75,135.66 H42.35 M342.4,135.66 H340.79999999999995 M40.75,134.68 H42.35 M342.4,134.68 H340.79999999999995 M40.75,133.89 H42.35 M342.4,133.89 H340.79999999999995 M40.75,133.21 H42.35 M342.4,133.21 H340.79999999999995 M40.75,132.63 H42.35 M342.4,132.63 H340.79999999999995 M40.75,132.11 H42.35 M342.4,132.11 H340.79999999999995 M40.75,131.65 H43.65 M342.4,131.65 H339.5 M40.75,128.62 H42.35 M342.4,128.62 H340.79999999999995 M40.75,126.84 H42.35 M342.4,126.84 H340.79999999999995 M40.75,125.58 H42.35 M342.4,125.58 H340.79999999999995 M40.75,124.61 H42.35 M342.4,124.61 H340.79999999999995 M40.75,123.81 H42.35 M342.4,123.81 H340.79999999999995 M40.75,123.14 H42.35 M342.4,123.14 H340.79999999999995 M40.75,122.55 H42.35 M342.4,122.55 H340.79999999999995 M40.75,122.04 H42.35 M342.4,122.04 H340.79999999999995 M40.75,121.58 H43.65 M342.4,121.58 H339.5 M40.75,118.54 H42.35 M342.4,118.54 H340.79999999999995 M40.75,116.77 H42.35 M342.4,116.77 H340.79999999999995 M40.75,115.51 H42.35 M342.4,115.51 H340.79999999999995 M40.75,114.53 H42.35 M342.4,114.53 H340.79999999999995 M40.75,113.74 H42.35 M342.4,113.74 H340.79999999999995 M40.75,113.06 H42.35 M342.4,113.06 H340.79999999999995 M40.75,112.48 H42.35 M342.4,112.48 H340.79999999999995 M40.75,111.96 H42.35 M342.4,111.96 H340.79999999999995 M40.75,111.50 H43.65 M342.4,111.50 H339.5 M40.75,108.47 H42.35 M342.4,108.47 H340.79999999999995 M40.75,106.69 H42.35 M342.4,106.69 H340.79999999999995 M40.75,105.43 H42.35 M342.4,105.43 H340.79999999999995 M40.75,104.46 H42.35 M342.4,104.46 H340.79999999999995 M40.75,103.66 H42.35 M342.4,103.66 H340.79999999999995 M40.75,102.99 H42.35 M342.4,102.99 H340.79999999999995 M40.75,102.40 H42.35 M342.4,102.40 H340.79999999999995 M40.75,101.89 H42.35 M342.4,101.89 H340.79999999999995 M40.75,101.43 H43.65 M342.4,101.43 H339.5 M40.75,98.39 H42.35 M342.4,98.39 H340.79999999999995 M40.75,96.62 H42.35 M342.4,96.62 H340.79999999999995 M40.75,95.36 H42.35 M342.4,95.36 H340.79999999999995 M40.75,94.38 H42.35 M342.4,94.38 H340.79999999999995 M40.75,93.59 H42.35 M342.4,93.59 H340.79999999999995 M40.75,92.91 H42.35 M342.4,92.91 H340.79999999999995 M40.75,92.33 H42.35 M342.4,92.33 H340.79999999999995 M40.75,91.81 H42.35 M342.4,91.81 H340.79999999999995 M40.75,91.35 H43.65 M342.4,91.35 H339.5 M40.75,88.32 H42.35 M342.4,88.32 H340.79999999999995 M40.75,86.54 H42.35 M342.4,86.54 H340.79999999999995 M40.75,85.28 H42.35 M342.4,85.28 H340.79999999999995 M40.75,84.31 H42.35 M342.4,84.31 H340.79999999999995 M40.75,83.51 H42.35 M342.4,83.51 H340.79999999999995 M40.75,82.84 H42.35 M342.4,82.84 H340.79999999999995 M40.75,82.25 H42.35 M342.4,82.25 H340.79999999999995 M40.75,81.74 H42.35 M342.4,81.74 H340.79999999999995 M40.75,81.28 H43.65 M342.4,81.28 H339.5 M40.75,78.24 H42.35 M342.4,78.24 H340.79999999999995 M40.75,76.47 H42.35 M342.4,76.47 H340.79999999999995 M40.75,75.21 H42.35 M342.4,75.21 H340.79999999999995 M40.75,74.23 H42.35 M342.4,74.23 H340.79999999999995 M40.75,73.44 H42.35 M342.4,73.44 H340.79999999999995 M40.75,72.76 H42.35 M342.4,72.76 H340.79999999999995 M40.75,72.18 H42.35 M342.4,72.18 H340.79999999999995 M40.75,71.66 H42.35 M342.4,71.66 H340.79999999999995 M40.75,71.20 H43.65 M342.4,71.20 H339.5 M40.75,68.17 H42.35 M342.4,68.17 H340.79999999999995 M40.75,66.39 H42.35 M342.4,66.39 H340.79999999999995 M40.75,65.13 H42.35 M342.4,65.13 H340.79999999999995 M40.75,64.16 H42.35 M342.4,64.16 H340.79999999999995 M40.75,63.36 H42.35 M342.4,63.36 H340.79999999999995 M40.75,62.69 H42.35 M342.4,62.69 H340.79999999999995 M40.75,62.10 H42.35 M342.4,62.10 H340.79999999999995 M40.75,61.59 H42.35 M342.4,61.59 H340.79999999999995 M40.75,61.13 H43.65 M342.4,61.13 H339.5 M40.75,58.09 H42.35 M342.4,58.09 H340.79999999999995 M40.75,56.32 H42.35 M342.4,56.32 H340.79999999999995 M40.75,55.06 H42.35 M342.4,55.06 H340.79999999999995 M40.75,54.08 H42.35 M342.4,54.08 H340.79999999999995 M40.75,53.29 H42.35 M342.4,53.29 H340.79999999999995 M40.75,52.61 H42.35 M342.4,52.61 H340.79999999999995 M40.75,52.03 H42.35 M342.4,52.03 H340.79999999999995 M40.75,51.51 H42.35 M342.4,51.51 H340.79999999999995 M40.75,51.05 H43.65 M342.4,51.05 H339.5 M40.75,48.02 H42.35 M342.4,48.02 H340.79999999999995 M40.75,46.24 H42.35 M342.4,46.24 H340.79999999999995 M40.75,44.98 H42.35 M342.4,44.98 H340.79999999999995 M40.75,44.01 H42.35 M342.4,44.01 H340.79999999999995 M40.75,43.21 H42.35 M342.4,43.21 H340.79999999999995 M40.75,42.54 H42.35 M342.4,42.54 H340.79999999999995 M40.75,41.95 H42.35 M342.4,41.95 H340.79999999999995 M40.75,41.44 H42.35 M342.4,41.44 H340.79999999999995 M40.75,40.98 H43.65 M342.4,40.98 H339.5 M40.75,37.94 H42.35 M342.4,37.94 H340.79999999999995 M40.75,36.17 H42.35 M342.4,36.17 H340.79999999999995 M40.75,34.91 H42.35 M342.4,34.91 H340.79999999999995 M40.75,33.93 H42.35 M342.4,33.93 H340.79999999999995 M40.75,33.14 H42.35 M342.4,33.14 H340.79999999999995 M40.75,32.46 H42.35 M342.4,32.46 H340.79999999999995 M40.75,31.88 H42.35 M342.4,31.88 H340.79999999999995 M40.75,31.36 H42.35 M342.4,31.36 H340.79999999999995 M40.75,30.90 H43.65 M342.4,30.90 H339.5 M40.75,27.87 H42.35 M342.4,27.87 H340.79999999999995 M40.75,26.09 H42.35 M342.4,26.09 H340.79999999999995 M40.75,24.83 H42.35 M342.4,24.83 H340.79999999999995 M40.75,23.86 H42.35 M342.4,23.86 H340.79999999999995 M40.75,23.06 H42.35 M342.4,23.06 H340.79999999999995 M40.75,22.39 H42.35 M342.4,22.39 H340.79999999999995 M40.75,21.80 H42.35 M342.4,21.80 H340.79999999999995 M40.75,21.29 H42.35 M342.4,21.29 H340.79999999999995 M40.75,20.83 H43.65 M342.4,20.83 H339.5 M40.75,17.79 H42.35 M342.4,17.79 H340.79999999999995 M40.75,16.02 H42.35 M342.4,16.02 H340.79999999999995 M40.75,14.76 H42.35 M342.4,14.76 H340.79999999999995 M40.75,13.78 H42.35 M342.4,13.78 H340.79999999999995 M40.75,12.99 H42.35 M342.4,12.99 H340.79999999999995 M40.75,12.31 H42.35 M342.4,12.31 H340.79999999999995 M40.75,11.73 H42.35 M342.4,11.73 H340.79999999999995 M40.75,11.21 H42.35 M342.4,11.21 H340.79999999999995 M40.75,10.75 H43.65 M342.4,10.75 H339.5 M40.75,7.72 H42.35 M342.4,7.72 H340.79999999999995 M40.75,5.94 H42.35 M342.4,5.94 H340.79999999999995 M40.75,4.68 H42.35 M342.4,4.68 H340.79999999999995 M40.75,3.71 H42.35 M342.4,3.71 H340.79999999999995 M40.75,2.91 H42.35 M342.4,2.91 H340.79999999999995 M40.75,2.24 H42.35 M342.4,2.24 H340.79999999999995 M40.75,1.65 H42.35 M342.4,1.65 H340.79999999999995 M40.75,1.14 H42.35 M342.4,1.14 H340.79999999999995 M40.75,0.68 H43.65 M342.4,0.68 H339.5" stroke="#000" stroke-width="1.1" fill="none"/>
<rect x="40.75" y="0.5" width="301.65" height="231.80" fill="none" stroke="#000" stroke-width="1.1"/>
<g fill="#000" stroke="#000" stroke-width="0.25">
<text x="40.95" y="247" text-anchor="middle" font-size="10.5">10<tspan font-size="5.9" dx="-0.5" dy="-5.1" stroke-width="0.12">7</tspan></text>
<text x="84.04" y="247" text-anchor="middle" font-size="10.5">10<tspan font-size="5.9" dx="-0.5" dy="-5.1" stroke-width="0.12">8</tspan></text>
<text x="127.13" y="247" text-anchor="middle" font-size="10.5">10<tspan font-size="5.9" dx="-0.5" dy="-5.1" stroke-width="0.12">9</tspan></text>
<text x="170.22" y="247" text-anchor="middle" font-size="10.5">10<tspan font-size="5.9" dx="-0.5" dy="-5.1" stroke-width="0.12">10</tspan></text>
<text x="213.31" y="247" text-anchor="middle" font-size="10.5">10<tspan font-size="5.9" dx="-0.5" dy="-5.1" stroke-width="0.12">11</tspan></text>
<text x="256.40" y="247" text-anchor="middle" font-size="10.5">10<tspan font-size="5.9" dx="-0.5" dy="-5.1" stroke-width="0.12">12</tspan></text>
<text x="299.49" y="247" text-anchor="middle" font-size="10.5">10<tspan font-size="5.9" dx="-0.5" dy="-5.1" stroke-width="0.12">13</tspan></text>
<text x="342.58" y="247" text-anchor="middle" font-size="10.5">10<tspan font-size="5.9" dx="-0.5" dy="-5.1" stroke-width="0.12">14</tspan></text>
<text x="38.5" y="236.50" text-anchor="end" font-size="10.5">10<tspan font-size="6" dx="-0.7" dy="-5.1" stroke-width="0.12">-12</tspan></text>
<text x="38.5" y="216.35" text-anchor="end" font-size="10.5">10<tspan font-size="6" dx="-0.7" dy="-5.1" stroke-width="0.12">-10</tspan></text>
<text x="38.5" y="196.20" text-anchor="end" font-size="10.5">10<tspan font-size="6" dx="-0.7" dy="-5.1" stroke-width="0.12">-8</tspan></text>
<text x="38.5" y="176.05" text-anchor="end" font-size="10.5">10<tspan font-size="6" dx="-0.7" dy="-5.1" stroke-width="0.12">-6</tspan></text>
<text x="38.5" y="155.90" text-anchor="end" font-size="10.5">10<tspan font-size="6" dx="-0.7" dy="-5.1" stroke-width="0.12">-4</tspan></text>
<text x="38.5" y="135.75" text-anchor="end" font-size="10.5">10<tspan font-size="6" dx="-0.7" dy="-5.1" stroke-width="0.12">-2</tspan></text>
<text x="38.5" y="115.60" text-anchor="end" font-size="10.5">10<tspan font-size="6" dx="-0.7" dy="-5.1" stroke-width="0.12">0</tspan></text>
<text x="38.5" y="95.45" text-anchor="end" font-size="10.5">10<tspan font-size="6" dx="-0.7" dy="-5.1" stroke-width="0.12">2</tspan></text>
<text x="38.5" y="75.30" text-anchor="end" font-size="10.5">10<tspan font-size="6" dx="-0.7" dy="-5.1" stroke-width="0.12">4</tspan></text>
<text x="38.5" y="55.15" text-anchor="end" font-size="10.5">10<tspan font-size="6" dx="-0.7" dy="-5.1" stroke-width="0.12">6</tspan></text>
<text x="38.5" y="35.00" text-anchor="end" font-size="10.5">10<tspan font-size="6" dx="-0.7" dy="-5.1" stroke-width="0.12">8</tspan></text>
<text x="38.5" y="14.85" text-anchor="end" font-size="10.5">10<tspan font-size="6" dx="-0.7" dy="-5.1" stroke-width="0.12">10</tspan></text>
<text x="191.85" y="266.9" text-anchor="middle" font-size="13.5" stroke-width="0.08">Radius (cm)</text>
<text transform="translate(13.2,127.1) rotate(-90)" text-anchor="middle" font-size="13.9" stroke-width="0.08">Density (g cm<tspan font-size="7.5" dy="-7.5">-3</tspan><tspan dy="7.5">)</tspan></text>
</g>
</svg>
</body></html>
